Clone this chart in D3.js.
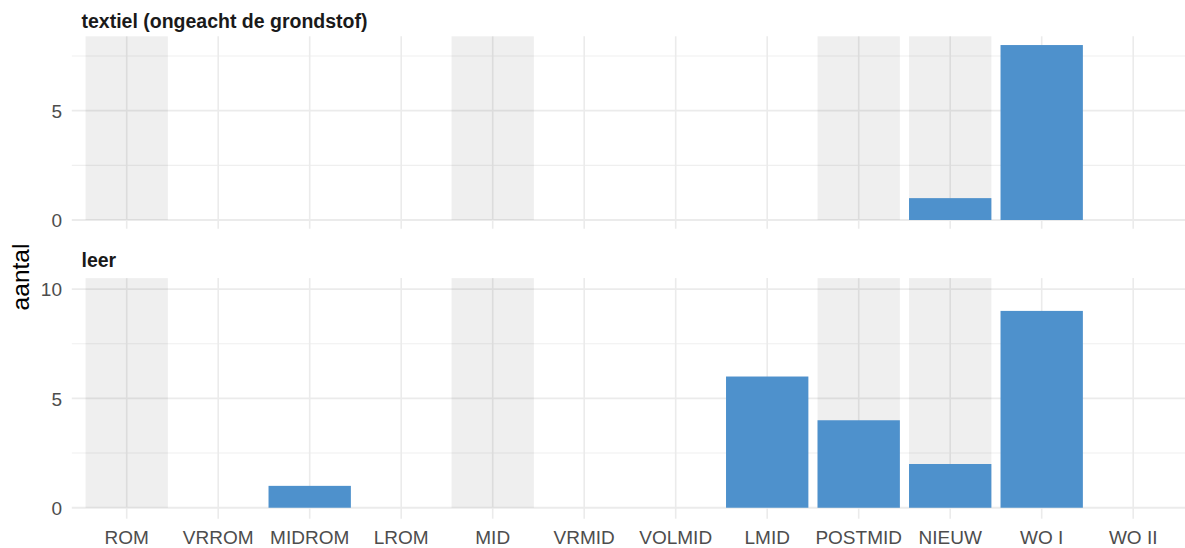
<!DOCTYPE html>
<html>
<head>
<meta charset="utf-8">
<script src="https://cdn.jsdelivr.net/npm/d3@7/dist/d3.min.js"></script>
<style>
  html, body { margin: 0; padding: 0; background: #fff; }
  svg { display: block; }
</style>
</head>
<body>
<svg id="chart" width="1185" height="548"></svg>
<script>
// ---- data ----
const categories = ["ROM", "VRROM", "MIDROM", "LROM", "MID", "VRMID", "VOLMID", "LMID", "POSTMID", "NIEUW", "WO I", "WO II"];
const shaded = ["ROM", "MID", "POSTMID", "NIEUW"];
const panelTitles = ["textiel (ongeacht de grondstof)", "leer"];
const textielValues = [0, 0, 0, 0, 0, 0, 0, 0, 0, 1, 8, 0];
const leerValues = [0, 0, 1, 0, 0, 0, 0, 6, 4, 2, 9, 0];
const textielTicks = [0, 5];
const leerTicks = [0, 5, 10];
const textielMinor = [2.5, 7.5];
const leerMinor = [2.5, 7.5];
const panelLimits = [8, 10];
const yTitle = "aantal";

// ---- layout ----
const svg = d3.select("#chart");
const x = d3.scaleBand().domain(categories).range([71.8, 1188.1]).paddingInner(0.1).paddingOuter(0.15);

const panels = [
  { title: panelTitles[0], values: textielValues, ticks: textielTicks, minor: textielMinor, limit: panelLimits[0], top: 36.3, titleY: 28.3 },
  { title: panelTitles[1], values: leerValues, ticks: leerTicks, minor: leerMinor, limit: panelLimits[1], top: 278.1, titleY: 266.5 }
];
const unitPx = 21.87;

panels.forEach(p => {
  const lo = -0.05 * p.limit, hi = p.limit * 1.05;
  const bottom = p.top + (hi - lo) * unitPx;
  const y = d3.scaleLinear().domain([lo, hi]).range([bottom, p.top]);
  const g = svg.append("g");

  // minor horizontal grid
  g.selectAll(".minor").data(p.minor).join("line")
    .attr("x1", 71.8).attr("x2", 1185)
    .attr("y1", d => y(d)).attr("y2", d => y(d))
    .attr("stroke", "#EFEFEF").attr("stroke-width", 1.1);
  // major horizontal grid
  g.selectAll(".major").data(p.ticks).join("line")
    .attr("x1", 71.8).attr("x2", 1185)
    .attr("y1", d => y(d)).attr("y2", d => y(d))
    .attr("stroke", "#EBEBEB").attr("stroke-width", 1.8);
  // vertical grid
  g.selectAll(".vgrid").data(categories).join("line")
    .attr("x1", d => x(d) + x.bandwidth() / 2).attr("x2", d => x(d) + x.bandwidth() / 2)
    .attr("y1", p.top).attr("y2", bottom)
    .attr("stroke", "#EBEBEB").attr("stroke-width", 1.6);

  // shaded periods
  g.selectAll(".shade").data(shaded).join("rect")
    .attr("x", d => x(d)).attr("width", x.bandwidth())
    .attr("y", p.top).attr("height", y(0) - p.top)
    .attr("fill", "#000").attr("fill-opacity", 0.062);

  // bars
  g.selectAll(".bar").data(categories.map((c, i) => ({ c, v: p.values[i] })).filter(d => d.v > 0)).join("rect")
    .attr("x", d => x(d.c)).attr("width", x.bandwidth())
    .attr("y", d => y(d.v)).attr("height", d => y(0) - y(d.v))
    .attr("fill", "#4E91CC");

  // y axis tick labels
  const yAxis = d3.axisLeft(y).tickValues(p.ticks).tickSize(0).tickPadding(0);
  const ag = g.append("g").attr("transform", "translate(62,0)").call(yAxis);
  ag.select(".domain").remove();
  ag.selectAll("text")
    .attr("font-family", "Liberation Sans, Arial, sans-serif")
    .attr("font-size", 19).attr("fill", "#4D4D4D").attr("dy", "0.36em");

  // strip title
  g.append("text").attr("x", 81.5).attr("y", p.titleY)
    .attr("font-family", "Liberation Sans, Arial, sans-serif")
    .attr("font-weight", "bold").attr("font-size", 19.5).attr("fill", "#1A1A1A")
    .text(p.title);

  p.bottom = bottom;
});

// x axis labels
const xAxis = d3.axisBottom(x).tickSize(0).tickPadding(0);
const xg = svg.append("g").attr("transform", "translate(0,530.5)").call(xAxis);
xg.select(".domain").remove();
xg.selectAll("text")
  .attr("font-family", "Liberation Sans, Arial, sans-serif")
  .attr("font-size", 19).attr("fill", "#4D4D4D").attr("dy", "0.71em");

// y title
svg.append("text")
  .attr("transform", "translate(28.5,277) rotate(-90)")
  .attr("text-anchor", "middle")
  .attr("font-family", "Liberation Sans, Arial, sans-serif")
  .attr("font-size", 24.5).attr("fill", "#000")
  .text(yTitle);
</script>
</body>
</html>
